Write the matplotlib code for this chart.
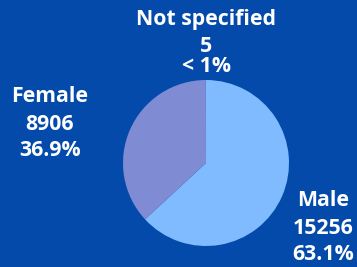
import matplotlib
matplotlib.use("Agg")
import matplotlib.pyplot as plt

labels = ["Male", "Female", "Not specified"]
counts = [15256, 8906, 5]
pct_labels = ["63.1%", "36.9%", "< 1%"]
colors = ["#80BBFF", "#7F8BD2", "#7F8BD2"]

bg = "#034AAB"
plt.rcParams['font.family'] = ['Open Sans', 'DejaVu Sans']

fig = plt.figure(figsize=(3.57, 2.67), dpi=100)
fig.patch.set_facecolor(bg)
ax = fig.add_axes([0, 0, 1, 1])
ax.set_facecolor(bg)

ax.pie(counts, colors=colors, startangle=90, counterclock=False,
       center=(206, 104), radius=83, frame=True,
       wedgeprops=dict(linewidth=0))
ax.set_xlim(0, 357)
ax.set_ylim(0, 267)
ax.set_aspect("equal")
ax.axis("off")

# small decorative corner at bottom left
ax.add_patch(plt.Circle((-14, -14), 16, color="#80BBFF", lw=0))

kw = dict(color="white", fontweight="bold", fontsize=15.3, ha="center", va="center")
# Not specified
ax.text(206, 267 - 20, labels[2], **kw)
ax.text(206, 267 - 47, str(counts[2]), **kw)
ax.text(206, 267 - 67, pct_labels[2], **kw)
# Female
ax.text(50, 267 - 97, labels[1], **kw)
ax.text(50, 267 - 125, str(counts[1]), **kw)
ax.text(50, 267 - 151, pct_labels[1], **kw)
# Male
ax.text(323, 267 - 200, labels[0], **kw)
ax.text(323, 267 - 228, str(counts[0]), **kw)
ax.text(323, 267 - 255, pct_labels[0], **kw)

fig.savefig("out.png", dpi=100, facecolor=bg)
